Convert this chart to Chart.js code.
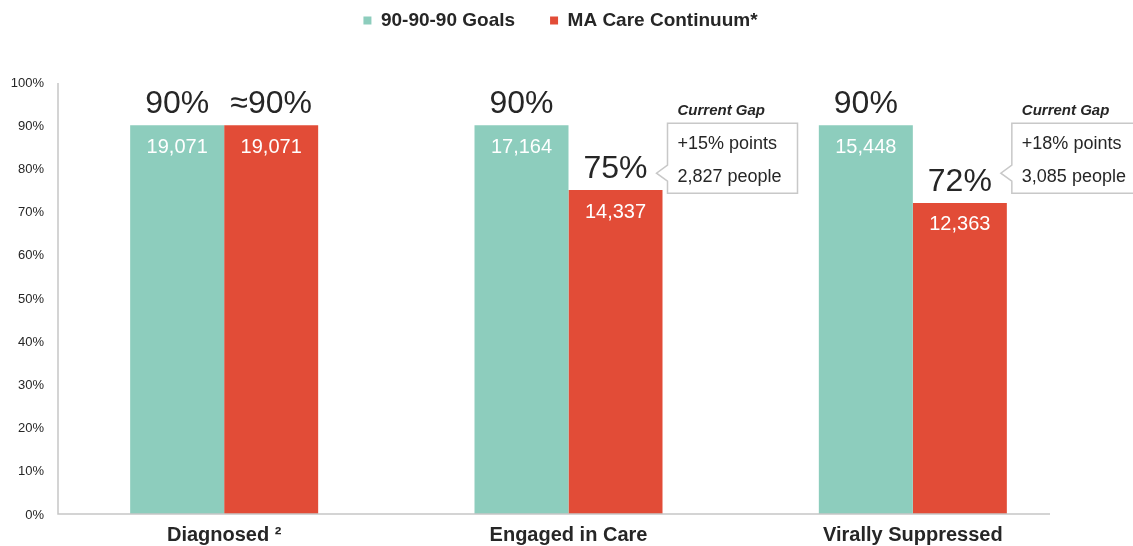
<!DOCTYPE html>
<html>
<head>
<meta charset="utf-8">
<script src="https://cdn.jsdelivr.net/npm/chart.js@4"></script>
<style>
  html, body { margin: 0; padding: 0; background: #fff; }
  #wrap { width: 1133px; height: 546px; }
</style>
</head>
<body>
<div id="wrap"><canvas id="grafico"></canvas></div>
<script>
// ===== DADOS =====
const categorias = ['Diagnosed \u00B2', 'Engaged in Care', 'Virally Suppressed'];
const metas = [90, 90, 90];
const continuum = [90, 75, 72];
const rotulosMetas = ['90%', '90%', '90%'];
const rotulosContinuum = ['\u224890%', '75%', '72%'];
const pessoasMetas = ['19,071', '17,164', '15,448'];
const pessoasContinuum = ['19,071', '14,337', '12,363'];
const gapPontos = [null, '+15% points', '+18% points'];
const gapPessoas = [null, '2,827 people', '3,085 people'];
const ticksY = [0, 10, 20, 30, 40, 50, 60, 70, 80, 90, 100];

const VERDE = '#8dcdbd';
const VERMELHO = '#e24c37';
const TEXTO = '#262626';
const FONTE = '"Liberation Sans", Arial, sans-serif';

// ===== PLUGIN: rótulos e caixas "Current Gap" =====
const rotulosPlugin = {
  id: 'rotulos',
  beforeLayout(chart) {
    const leg = chart.legend;
    if (leg && !leg._ajustado) {
      const fit = leg.fit;
      leg.fit = function () { fit.call(this); this.height = 106; };
      leg._ajustado = true;
    }
  },
  afterLayout(chart) {
    // legenda centrada na largura toda da figura
    const leg = chart.legend;
    if (leg) { leg.left += 18; leg.right += 18; }
  },
  afterDatasetsDraw(chart) {
    const ctx = chart.ctx;
    const area = chart.chartArea;
    const grandes = [rotulosMetas, rotulosContinuum];
    const pequenos = [pessoasMetas, pessoasContinuum];

    // eixos
    ctx.save();
    ctx.strokeStyle = '#c6c6c6';
    ctx.lineWidth = 1.5;
    ctx.beginPath();
    ctx.moveTo(area.left + 6, area.top + 1);
    ctx.lineTo(area.left + 6, area.bottom);
    ctx.lineTo(area.right - 35, area.bottom);
    ctx.stroke();
    ctx.restore();

    chart.data.datasets.forEach((ds, d) => {
      const meta = chart.getDatasetMeta(d);
      meta.data.forEach((bar, i) => {
        ctx.save();
        ctx.textAlign = 'center';
        ctx.fillStyle = TEXTO;
        ctx.font = '32px ' + FONTE;
        ctx.textBaseline = 'alphabetic';
        ctx.fillText(grandes[d][i], bar.x, bar.y - 12);
        ctx.fillStyle = '#ffffff';
        ctx.font = '20px ' + FONTE;
        ctx.textBaseline = 'middle';
        ctx.fillText(pequenos[d][i], bar.x, bar.y + 22);
        ctx.restore();
      });
    });

    const barrasMeta = chart.getDatasetMeta(0).data;
    const barrasCare = chart.getDatasetMeta(1).data;
    gapPontos.forEach((txt, i) => {
      if (!txt) return;
      const bar = barrasCare[i];
      const direita = bar.x + bar.width / 2;
      const x0 = direita + 5;
      const y0 = barrasMeta[i].y - 2;
      const w = 130, h = 70;
      const py = y0 + 50;

      ctx.save();
      ctx.fillStyle = '#ffffff';
      ctx.strokeStyle = '#c8c8c8';
      ctx.lineWidth = 1.5;
      ctx.beginPath();
      ctx.moveTo(x0, y0);
      ctx.lineTo(x0 + w, y0);
      ctx.lineTo(x0 + w, y0 + h);
      ctx.lineTo(x0, y0 + h);
      ctx.lineTo(x0, py + 8);
      ctx.lineTo(direita - 6, py);
      ctx.lineTo(x0, py - 8);
      ctx.closePath();
      ctx.fill();
      ctx.stroke();

      ctx.fillStyle = TEXTO;
      ctx.textAlign = 'left';
      ctx.textBaseline = 'alphabetic';
      ctx.font = 'italic bold 15px ' + FONTE;
      ctx.fillText('Current Gap', x0 + 10, y0 - 8);
      ctx.font = '18px ' + FONTE;
      ctx.fillText(txt, x0 + 10, y0 + 26);
      ctx.fillText(gapPessoas[i], x0 + 10, y0 + 59);
      ctx.restore();
    });
  }
};

// ===== GRÁFICO =====
new Chart(document.getElementById('grafico'), {
  type: 'bar',
  data: {
    labels: categorias,
    datasets: [
      { label: '90-90-90 Goals', data: metas, backgroundColor: VERDE },
      { label: 'MA Care Continuum*', data: continuum, backgroundColor: VERMELHO }
    ]
  },
  options: {
    responsive: true,
    maintainAspectRatio: false,
    animation: false,
    layout: { padding: { top: -24, right: 48, left: 0, bottom: 0 } },
    datasets: { bar: { categoryPercentage: 0.546, barPercentage: 1.0 } },
    plugins: {
      tooltip: { enabled: false },
      legend: {
        position: 'top',
        labels: {
          boxWidth: 8,
          boxHeight: 8,
          padding: 35,
          color: TEXTO,
          font: { family: FONTE, size: 19, weight: 'bold' }
        }
      }
    },
    scales: {
      x: {
        grid: { display: false, drawTicks: false },
        border: { display: false },
        ticks: {
          padding: 9,
          color: TEXTO,
          font: { family: FONTE, size: 20, weight: 'bold' }
        },
        afterFit(scale) { scale.height = 32; }
      },
      y: {
        min: 0,
        max: 100,
        afterBuildTicks(scale) { scale.ticks = ticksY.map(v => ({ value: v })); },
        grid: { display: false, drawTicks: false },
        border: { display: false },
        ticks: {
          padding: 8,
          labelOffset: 1,
          color: TEXTO,
          font: { family: FONTE, size: 13 },
          callback: v => v + '%'
        },
        afterFit(scale) { scale.width = 52; }
      }
    }
  },
  plugins: [rotulosPlugin]
});
</script>
</body>
</html>
